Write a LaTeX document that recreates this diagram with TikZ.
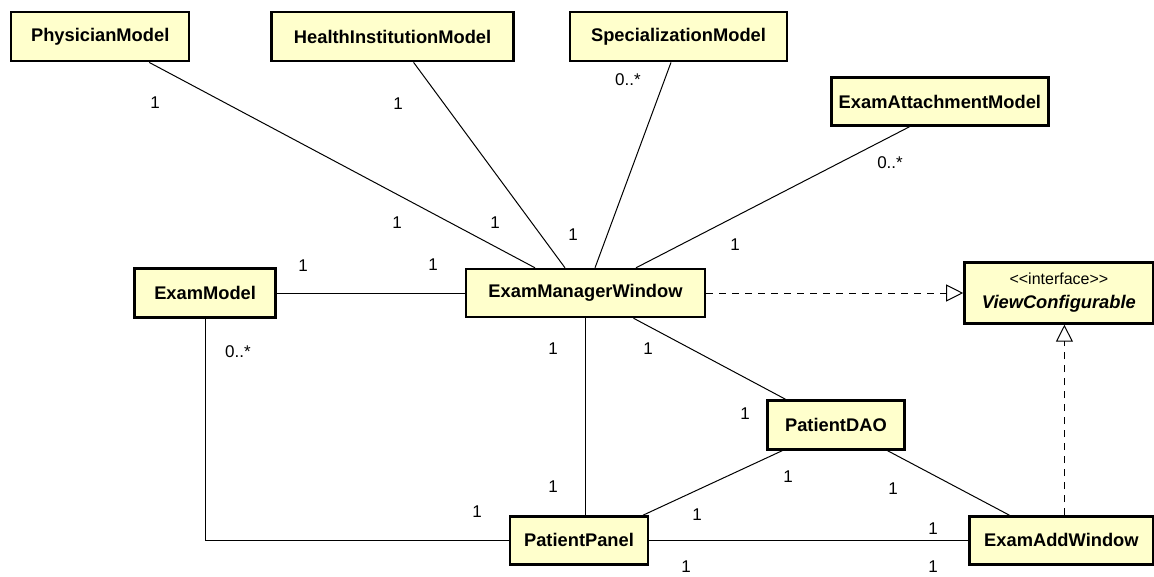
\documentclass[tikz,border=0pt]{standalone}
\usepackage{fontspec}
\setmainfont{Liberation Sans}
\usepackage{tikz}
\usetikzlibrary{positioning,arrows.meta}
\definecolor{umlfill}{RGB}{255,255,204}

\begin{document}
\begin{tikzpicture}[
  x=1pt, y=-1pt,
  cls/.style={draw, line width=2.4pt, fill=umlfill, inner sep=0pt,
              minimum height=49pt, font={\fontsize{18.3}{22}\selectfont\bfseries}},
  assoc/.style={line width=1pt},
  realize/.style={line width=1pt, dash pattern=on 7pt off 6pt,
                  -{Triangle[open, length=17pt, width=17pt]}},
  mult/.style={inner sep=0pt, font={\fontsize{17}{20}\selectfont}},
]
\useasboundingbox (0,0) rectangle (1154,576);

% ── model classes (top row) ──
\node[cls, minimum width=178pt, anchor=north west] (pm) at (10,11) {PhysicianModel};
\node[cls, minimum width=242pt, right=80pt of pm] (hi) {HealthInstitutionModel};
\node[cls, minimum width=217pt, right=54pt of hi] (sm) {SpecializationModel};
\node[cls, minimum width=217pt, minimum height=48pt, below right=14pt and 42pt of sm] (ea)
  {ExamAttachmentModel};

% ── window and its neighbours ──
\node[cls, minimum width=239pt, minimum height=48pt] (emw) at (585.5,293) {ExamManagerWindow};
\node[cls, minimum width=141pt, left=188pt of emw] (ex) {ExamModel};
\node[cls, minimum width=189pt, minimum height=61pt, align=center, right=257pt of emw] (vc)
  {{\fontsize{16}{19}\selectfont\mdseries <{}<interface>{}>}\\[2pt]
   \textit{ViewConfigurable}};

% ── lower classes ──
\node[cls, minimum width=137pt, below right=81pt and 60pt of emw] (dao) {PatientDAO};
\node[cls, minimum width=138pt, minimum height=48pt, below=197pt of emw, xshift=-6.5pt] (pp)
  {PatientPanel};
\node[cls, minimum width=184pt, minimum height=48pt, right=319pt of pp] (eaw) {ExamAddWindow};

% ── associations ──
\draw[assoc] ([xshift=49pt]pm.south) -- ([xshift=-50.5pt]emw.north);
\draw[assoc] ([xshift=21pt]hi.south) -- ([xshift=-20.5pt]emw.north);
\draw[assoc] ([xshift=-7.5pt]sm.south) -- ([xshift=9.5pt]emw.north);
\draw[assoc] ([xshift=-30.5pt]ea.south) -- ([xshift=50.5pt]emw.north);
\draw[assoc] (ex) -- (emw);
\draw[assoc] (emw.south) -- (emw.south |- pp.north);
\draw[assoc] ([xshift=48pt]emw.south) -- ([xshift=-50.5pt]dao.north);
\draw[assoc] (ex.south) |- (pp.west);
\draw[assoc] ([xshift=-53.5pt]dao.south) -- ([xshift=64pt]pp.north);
\draw[assoc] ([xshift=51.5pt]dao.south) -- ([xshift=-52pt]eaw.north);
\draw[assoc] (pp) -- (eaw);

% ── realizations ──
\draw[realize] (emw.east) -- (vc.west);
\draw[realize] ([xshift=3pt]eaw.north) -- ([xshift=3pt]eaw.north |- vc.south);

% ── multiplicities ──
\node[mult] (mPm)     at (155,103) {1};
\node[mult] (mHi)     at (398,104) {1};
\node[mult] (mSm)     at (628,80)  {0..*};
\node[mult] (mEa)     at (890,163) {0..*};
\node[mult] (mEmwPm)  at (397,223) {1};
\node[mult] (mEmwHi)  at (495,223) {1};
\node[mult] (mEmwSm)  at (573,235) {1};
\node[mult] (mEmwEa)  at (735,245) {1};
\node[mult] (mEx)     at (303,266) {1};
\node[mult] (mEmwEx)  at (433,265) {1};
\node[mult] (mExPp)   at (238,352) {0..*};
\node[mult] (mEmwPp)  at (553,349) {1};
\node[mult] (mEmwDao) at (648,349) {1};
\node[mult] (mDaoEmw) at (745,414) {1};
\node[mult] (mPpEmw)  at (553,487) {1};
\node[mult] (mPpEx)   at (477,512) {1};
\node[mult] (mDaoPp)  at (788,477) {1};
\node[mult] (mPpDao)  at (697,515) {1};
\node[mult] (mDaoEaw) at (893,489) {1};
\node[mult] (mEawDao) at (933,529) {1};
\node[mult] (mPpEaw)  at (686,567) {1};
\node[mult] (mEawPp)  at (933,567) {1};

\end{tikzpicture}
\end{document}
